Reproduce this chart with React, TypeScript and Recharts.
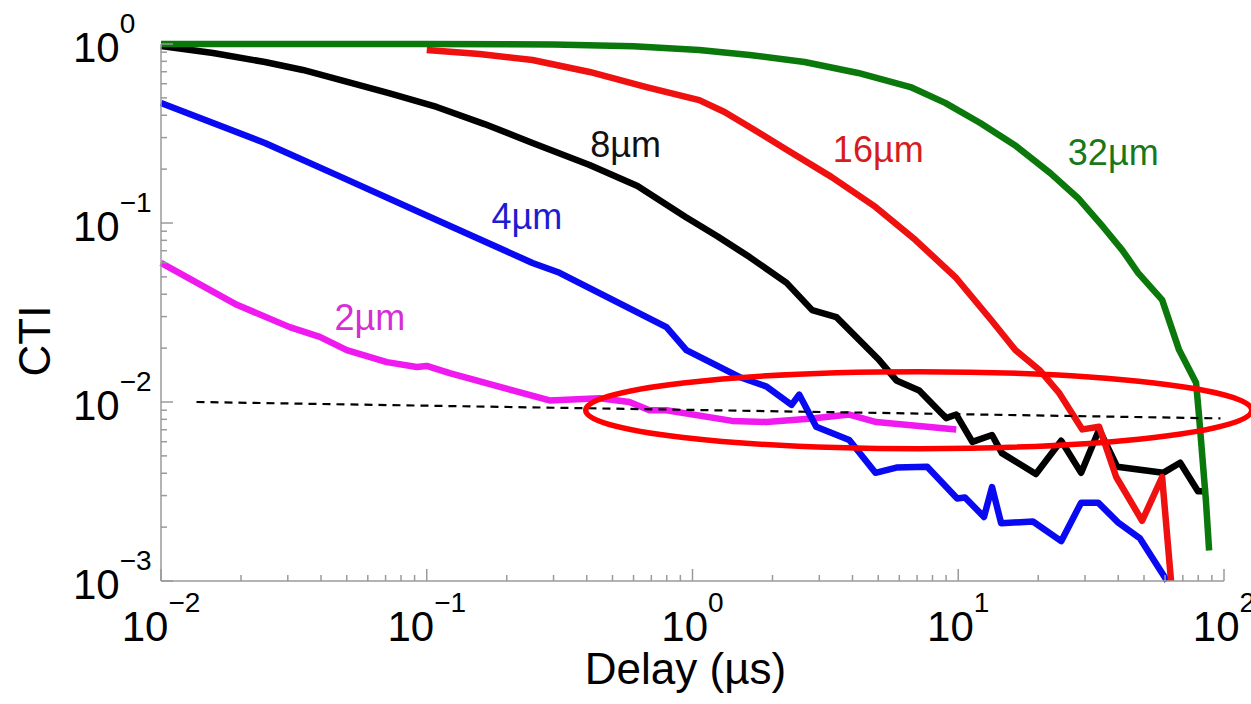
import React from 'react'
import { LineChart, Line, XAxis, YAxis, ReferenceDot, Label } from 'recharts'

// CTI vs delay, one series per pixel pitch
const cti2um = [
  { delay: 0.01, cti: 0.0598 },
  { delay: 0.0193, cti: 0.0349 },
  { delay: 0.0305, cti: 0.0262 },
  { delay: 0.0396, cti: 0.0231 },
  { delay: 0.05, cti: 0.0195 },
  { delay: 0.0708, cti: 0.0167 },
  { delay: 0.0917, cti: 0.0157 },
  { delay: 0.1, cti: 0.0159 },
  { delay: 0.122, cti: 0.0145 },
  { delay: 0.29, cti: 0.0102 },
  { delay: 0.447, cti: 0.0105 },
  { delay: 0.579, cti: 0.01 },
  { delay: 0.689, cti: 0.009 },
  { delay: 0.798, cti: 0.009 },
  { delay: 1.41, cti: 0.00784 },
  { delay: 1.9, cti: 0.00773 },
  { delay: 2.82, cti: 0.00808 },
  { delay: 3.89, cti: 0.00851 },
  { delay: 4.92, cti: 0.00773 },
  { delay: 9.83, cti: 0.00703 },
]

const cti4um = [
  { delay: 0.01, cti: 0.468 },
  { delay: 0.0246, cti: 0.28 },
  { delay: 0.0475, cti: 0.181 },
  { delay: 0.109, cti: 0.104 },
  { delay: 0.25, cti: 0.0598 },
  { delay: 0.316, cti: 0.0527 },
  { delay: 0.798, cti: 0.0262 },
  { delay: 0.948, cti: 0.0195 },
  { delay: 1.5, cti: 0.0138 },
  { delay: 1.9, cti: 0.0122 },
  { delay: 2.36, cti: 0.00964 },
  { delay: 2.52, cti: 0.011 },
  { delay: 2.92, cti: 0.00728 },
  { delay: 3.89, cti: 0.00614 },
  { delay: 4.88, cti: 0.00402 },
  { delay: 5.85, cti: 0.0043 },
  { delay: 7.64, cti: 0.00435 },
  { delay: 9.91, cti: 0.00289 },
  { delay: 10.6, cti: 0.00293 },
  { delay: 12.5, cti: 0.00228 },
  { delay: 13.4, cti: 0.00335 },
  { delay: 14.5, cti: 0.0021 },
  { delay: 19.1, cti: 0.00215 },
  { delay: 24.4, cti: 0.00167 },
  { delay: 29.0, cti: 0.00274 },
  { delay: 33.6, cti: 0.00274 },
  { delay: 40.0, cti: 0.00212 },
  { delay: 48.3, cti: 0.00173 },
  { delay: 61.1, cti: 0.001 },
]

const cti8um = [
  { delay: 0.01, cti: 0.975 },
  { delay: 0.0157, cti: 0.891 },
  { delay: 0.0246, cti: 0.793 },
  { delay: 0.0342, cti: 0.716 },
  { delay: 0.0475, cti: 0.629 },
  { delay: 0.072, cti: 0.532 },
  { delay: 0.109, cti: 0.445 },
  { delay: 0.165, cti: 0.357 },
  { delay: 0.25, cti: 0.28 },
  { delay: 0.41, cti: 0.211 },
  { delay: 0.621, cti: 0.161 },
  { delay: 0.942, cti: 0.108 },
  { delay: 1.24, cti: 0.0843 },
  { delay: 1.64, cti: 0.0645 },
  { delay: 2.26, cti: 0.0463 },
  { delay: 2.82, cti: 0.0326 },
  { delay: 3.48, cti: 0.0298 },
  { delay: 5.05, cti: 0.0171 },
  { delay: 5.85, cti: 0.0132 },
  { delay: 7.13, cti: 0.0116 },
  { delay: 9.0, cti: 0.00813 },
  { delay: 9.83, cti: 0.00851 },
  { delay: 11.3, cti: 0.00599 },
  { delay: 13.4, cti: 0.00654 },
  { delay: 14.6, cti: 0.00518 },
  { delay: 19.6, cti: 0.00396 },
  { delay: 24.4, cti: 0.00607 },
  { delay: 29.0, cti: 0.00402 },
  { delay: 33.9, cti: 0.00703 },
  { delay: 39.6, cti: 0.00435 },
  { delay: 59.0, cti: 0.00402 },
  { delay: 68.4, cti: 0.00458 },
  { delay: 79.8, cti: 0.00317 },
  { delay: 87.1, cti: 0.00317 },
]

const cti16um = [
  { delay: 0.1, cti: 0.926 },
  { delay: 0.158, cti: 0.879 },
  { delay: 0.25, cti: 0.814 },
  { delay: 0.41, cti: 0.698 },
  { delay: 0.671, cti: 0.575 },
  { delay: 1.06, cti: 0.486 },
  { delay: 1.32, cti: 0.417 },
  { delay: 1.64, cti: 0.344 },
  { delay: 2.27, cti: 0.256 },
  { delay: 3.33, cti: 0.181 },
  { delay: 4.88, cti: 0.123 },
  { delay: 6.89, cti: 0.0805 },
  { delay: 9.75, cti: 0.0499 },
  { delay: 13.3, cti: 0.0287 },
  { delay: 16.4, cti: 0.0195 },
  { delay: 20.2, cti: 0.0151 },
  { delay: 24.0, cti: 0.0112 },
  { delay: 29.3, cti: 0.00703 },
  { delay: 33.9, cti: 0.00728 },
  { delay: 39.3, cti: 0.00381 },
  { delay: 49.2, cti: 0.00217 },
  { delay: 58.5, cti: 0.00381 },
  { delay: 63.2, cti: 0.001 },
]

const cti32um = [
  { delay: 0.01, cti: 1.0 },
  { delay: 0.1, cti: 1.0 },
  { delay: 0.3, cti: 0.995 },
  { delay: 0.6, cti: 0.97 },
  { delay: 1.06, cti: 0.926 },
  { delay: 1.64, cti: 0.868 },
  { delay: 2.64, cti: 0.793 },
  { delay: 4.2, cti: 0.689 },
  { delay: 6.61, cti: 0.575 },
  { delay: 8.93, cti: 0.469 },
  { delay: 12.1, cti: 0.362 },
  { delay: 16.5, cti: 0.269 },
  { delay: 22.2, cti: 0.19 },
  { delay: 28.2, cti: 0.138 },
  { delay: 35.1, cti: 0.095 },
  { delay: 41.4, cti: 0.0706 },
  { delay: 47.5, cti: 0.0527 },
  { delay: 58.5, cti: 0.0372 },
  { delay: 67.8, cti: 0.0195 },
  { delay: 78.5, cti: 0.0128 },
  { delay: 80.6, cti: 0.00826 },
  { delay: 85.5, cti: 0.00281 },
  { delay: 87.9, cti: 0.00148 },
]

// 1% threshold guide
const threshold = [
  { delay: 0.0136, cti: 0.01 },
  { delay: 97, cti: 0.0081 },
]

const seriesLabels = [
  { text: '2\u00b5m', delay: 0.0611, cti: 0.0252, color: '#d42ed4' },
  { text: '4\u00b5m', delay: 0.238, cti: 0.0925, color: '#1c1cd2' },
  { text: '8\u00b5m', delay: 0.56, cti: 0.234, color: '#111' },
  { text: '16\u00b5m', delay: 5.0, cti: 0.219, color: '#d81c1c' },
  { text: '32\u00b5m', delay: 38.3, cti: 0.211, color: '#187818' },
]

const highlight = { delay: 7.1, cti: 0.009 }

const decadesX = [0.01, 0.1, 1, 10, 100]
const decadesY = [0.001, 0.01, 0.1, 1]

const withMinors = (decades: number[]) => {
  const out: number[] = []
  decades.forEach((d, i) => {
    out.push(d)
    if (i < decades.length - 1) for (let m = 2; m <= 9; m++) out.push(+(d * m).toPrecision(3))
  })
  return out
}

const xTicks = withMinors(decadesX)
const yTicks = withMinors(decadesY)

const FONT = '"Liberation Sans", Arial, Helvetica, sans-serif'
const AXIS = '#9a9a9a'
const LW = 6.5

const isMajor = (v: number) => Math.abs(Math.log10(v) - Math.round(Math.log10(v))) < 1e-6
const expText = (v: number) => {
  const e = Math.round(Math.log10(v))
  return e < 0 ? '\u2212' + -e : String(e)
}

const XTick = (props: any) => {
  const { x, y, payload } = props
  const major = isMajor(payload.value)
  return (
    <g>
      <line x1={x} x2={x} y1={y} y2={y - (major ? 12 : 6)} stroke={AXIS} strokeWidth={1.5} />
      {major && (
        <text x={x} y={y + 60} textAnchor="middle" fontSize={42} fill="#000" fontFamily={FONT}>
          10<tspan dy={-29} fontSize={28}>{expText(payload.value)}</tspan>
        </text>
      )}
    </g>
  )
}

const YTick = (props: any) => {
  const { x, y, payload } = props
  const major = isMajor(payload.value)
  return (
    <g>
      <line x1={x} x2={x + (major ? 12 : 6)} y1={y} y2={y} stroke={AXIS} strokeWidth={1.5} />
      {major && (
        <text x={x - 88} y={y + 18} textAnchor="start" fontSize={42} fill="#000" fontFamily={FONT}>
          10<tspan dy={-29} fontSize={28}>{expText(payload.value)}</tspan>
        </text>
      )}
    </g>
  )
}

export default function App() {
  return (
    <div style={{ position: 'absolute', left: 0, top: 0, width: 1251, height: 704, background: '#fff', overflow: 'hidden' }}>
      <LineChart width={1251} height={704} margin={{ top: 44, right: 27, bottom: 0, left: 0 }}>
        <XAxis
          dataKey="delay"
          type="number"
          scale="log"
          domain={[0.01, 100]}
          ticks={xTicks}
          interval={0}
          height={123}
          tickSize={0}
          tickMargin={0}
          tick={<XTick />}
          axisLine={{ stroke: AXIS, strokeWidth: 1.5 }}
          tickLine={false}
        >
          <Label
            content={(p: any) => (
              <text
                x={p.viewBox.x + p.viewBox.width / 2 - 7}
                y={p.viewBox.y + 103}
                textAnchor="middle"
                fontSize={44}
                fontFamily={FONT}
                fill="#000"
              >
                Delay (µs)
              </text>
            )}
          />
        </XAxis>
        <YAxis
          dataKey="cti"
          type="number"
          scale="log"
          domain={[0.001, 1]}
          ticks={yTicks}
          interval={0}
          width={161}
          tickSize={0}
          tickMargin={0}
          tick={<YTick />}
          axisLine={{ stroke: AXIS, strokeWidth: 1.5 }}
          tickLine={false}
        >
          <Label
            content={() => (
              <text
                x={50}
                y={341}
                transform="rotate(-90, 50, 341)"
                textAnchor="middle"
                fontSize={44}
                fontFamily={FONT}
                fill="#000"
              >
                CTI
              </text>
            )}
          />
        </YAxis>

        <Line data={cti2um} dataKey="cti" type="linear" stroke="#f019f0" strokeWidth={LW} dot={false} isAnimationActive={false} strokeLinejoin="round" />
        <Line data={cti4um} dataKey="cti" type="linear" stroke="#0a0af2" strokeWidth={LW} dot={false} isAnimationActive={false} strokeLinejoin="round" />
        <Line data={cti8um} dataKey="cti" type="linear" stroke="#000" strokeWidth={LW} dot={false} isAnimationActive={false} strokeLinejoin="round" />
        <Line data={cti16um} dataKey="cti" type="linear" stroke="#ef1010" strokeWidth={LW} dot={false} isAnimationActive={false} strokeLinejoin="round" />
        <Line data={cti32um} dataKey="cti" type="linear" stroke="#0b780b" strokeWidth={LW} dot={false} isAnimationActive={false} strokeLinejoin="round" />
        <Line data={threshold} dataKey="cti" type="linear" stroke="#000" strokeWidth={2.2} strokeDasharray="8 6" dot={false} isAnimationActive={false} />

        {seriesLabels.map((s) => (
          <ReferenceDot
            key={s.text}
            x={s.delay}
            y={s.cti}
            ifOverflow="visible"
            shape={(p: any) => (
              <text x={p.cx} y={p.cy} textAnchor="middle" fontSize={36} fontFamily={FONT} fill={s.color}>
                {s.text}
              </text>
            )}
          />
        ))}

        <ReferenceDot
          x={highlight.delay}
          y={highlight.cti}
          ifOverflow="visible"
          shape={(p: any) => (
            <ellipse cx={p.cx} cy={p.cy} rx={333} ry={38.5} fill="none" stroke="#f00" strokeWidth={5.5} />
          )}
        />
      </LineChart>
    </div>
  )
}
